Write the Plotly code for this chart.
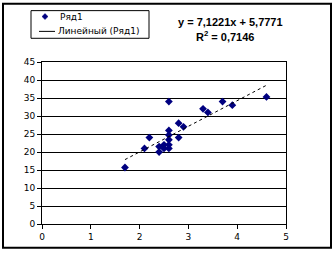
import plotly.graph_objects as go
import numpy as np

x_vals = [1.7, 2.1, 2.2, 2.4, 2.4, 2.5, 2.5, 2.6, 2.6, 2.6, 2.6, 2.6, 2.6, 2.8, 2.8, 2.9, 3.3, 3.4, 3.7, 3.9, 4.6]
y_vals = [15.7, 21, 24, 21.5, 20, 22, 21, 34, 26, 24.7, 23.4, 22, 21, 28, 24, 27, 32, 31, 34, 33, 35.3]
slope = 7.1221
intercept = 5.7771
r2 = 0.7146
series_name = "Ряд1"
trend_name = "Линейный (Ряд1)"

xt = np.array([min(x_vals), max(x_vals)])
yt = slope * xt + intercept

W, H = 335, 254
L, R, T, B = 42, 286, 62, 226
pw, ph = R - L, B - T
MARKER_COLOR = "#000080"

def px(xp):
    return (xp - L) / pw

def py(yp):
    return (B - yp) / ph

fig = go.Figure()
fig.add_trace(go.Scatter(x=x_vals, y=y_vals, mode="markers", name=series_name,
                         marker=dict(symbol="diamond", size=6, color=MARKER_COLOR)))
fig.add_trace(go.Scatter(x=xt, y=yt, mode="lines", name=trend_name,
                         line=dict(color="black", width=1, dash="dot")))

# custom legend (compact, like the reference)
mx, my, r = 45, 16, 3
diamond = (f"M {px(mx)} {py(my - r)} L {px(mx + r)} {py(my)} "
           f"L {px(mx)} {py(my + r)} L {px(mx - r)} {py(my)} Z")
shapes = [
    dict(type="rect", xref="paper", yref="paper",
         x0=px(3), x1=px(331), y0=py(250), y1=py(3),
         line=dict(color="black", width=2), fillcolor="rgba(0,0,0,0)", layer="below"),
    dict(type="rect", xref="paper", yref="paper",
         x0=px(31), x1=px(149), y0=py(38), y1=py(10),
         line=dict(color="black", width=1), fillcolor="white"),
    dict(type="path", xref="paper", yref="paper", path=diamond,
         line=dict(color=MARKER_COLOR, width=0.5), fillcolor=MARKER_COLOR),
    dict(type="line", xref="paper", yref="paper",
         x0=px(39), x1=px(55), y0=py(31), y1=py(31),
         line=dict(color="black", width=1)),
]

fig.update_layout(
    width=W, height=H,
    margin=dict(l=L, r=W - R, t=T, b=H - B),
    paper_bgcolor="white", plot_bgcolor="white",
    font=dict(family="DejaVu Sans", size=9, color="black"),
    showlegend=False,
    xaxis=dict(range=[0, 5], dtick=1, showgrid=False, showline=True, linecolor="black",
               linewidth=1, mirror=True, ticks="outside", ticklen=4, tickcolor="black",
               zeroline=False, fixedrange=True),
    yaxis=dict(range=[0, 45], dtick=5, showgrid=True, gridcolor="black", gridwidth=1,
               showline=True, linecolor="black", linewidth=1, mirror=True,
               ticks="outside", ticklen=4, tickcolor="black", zeroline=False, fixedrange=True),
    shapes=shapes,
    annotations=[
        dict(xref="paper", yref="paper", x=px(58), y=py(16), showarrow=False,
             text=series_name, font=dict(family="DejaVu Sans", size=9),
             xanchor="left", yanchor="middle"),
        dict(xref="paper", yref="paper", x=px(56), y=py(31), showarrow=False,
             text=trend_name, font=dict(family="DejaVu Sans", size=9),
             xanchor="left", yanchor="middle"),
        dict(xref="paper", yref="paper", x=px(230), y=py(22), showarrow=False,
             text=f"<b>y = {slope:.4f}x + {intercept:.4f}</b>".replace(".", ","),
             font=dict(family="Liberation Sans", size=11),
             xanchor="center", yanchor="middle"),
        dict(xref="paper", yref="paper", x=px(225), y=py(36), showarrow=False,
             text=f"<b>R<sup>2</sup> = {r2:.4f}</b>".replace(".", ","),
             font=dict(family="Liberation Sans", size=11),
             xanchor="center", yanchor="middle"),
    ],
)

fig.write_html("out.html")
